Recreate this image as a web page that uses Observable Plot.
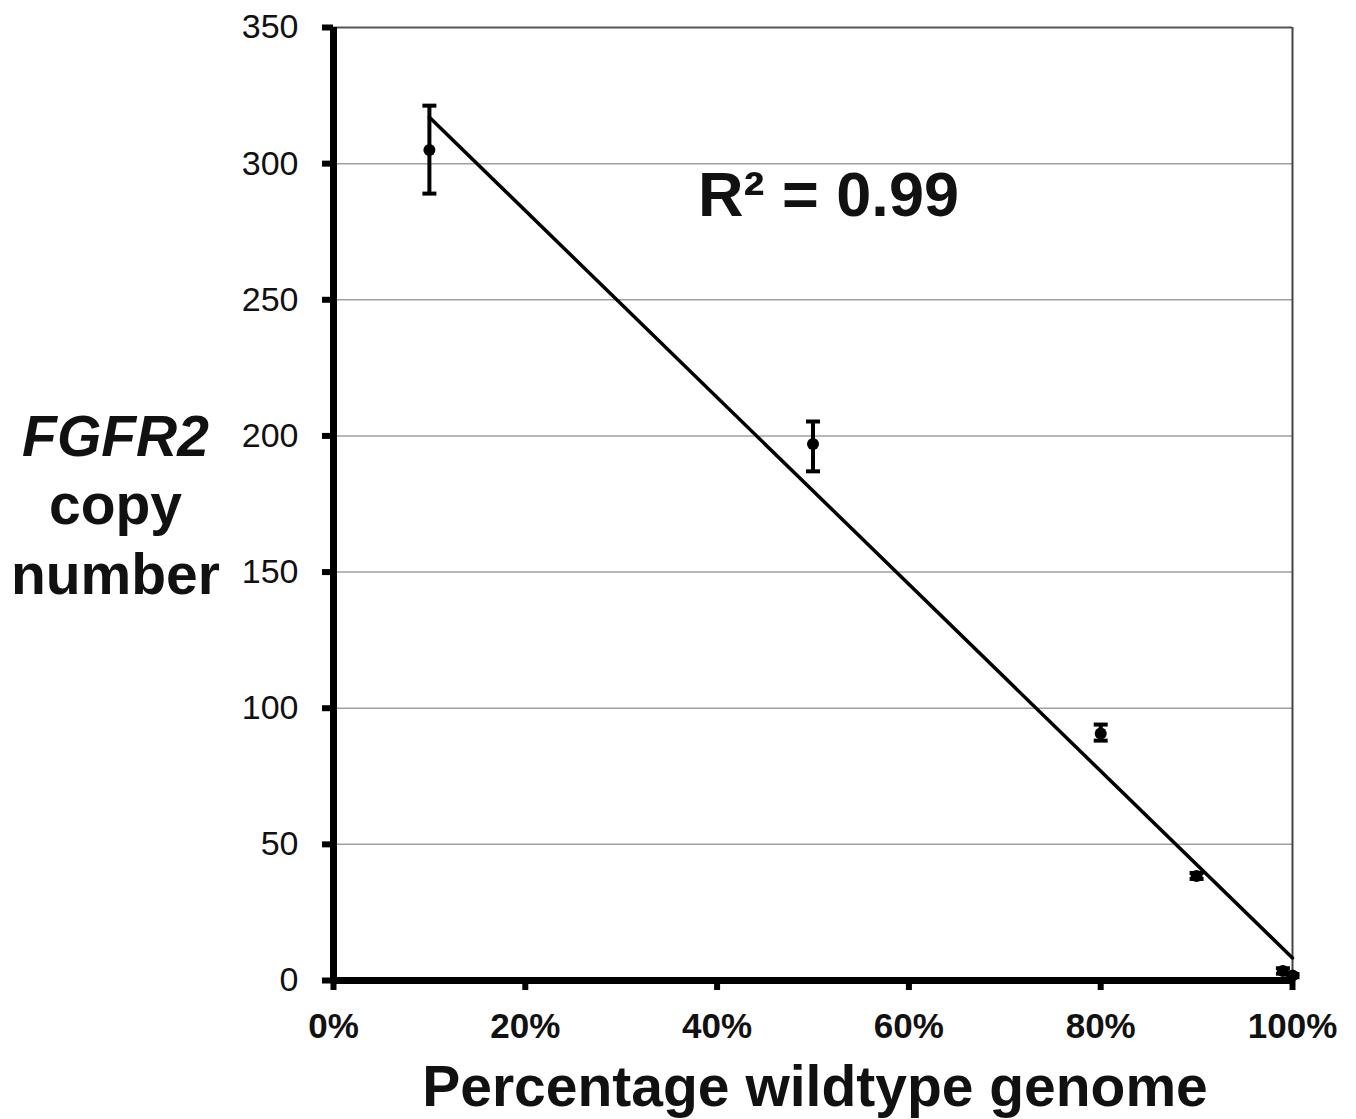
<!DOCTYPE html>
<html>
<head>
<meta charset="utf-8">
<script src="https://cdn.jsdelivr.net/npm/d3@7"></script>
<script src="https://cdn.jsdelivr.net/npm/@observablehq/plot@0.6"></script>
<style>
  html, body { margin: 0; padding: 0; background: #fff; }
</style>
</head>
<body>
<div id="chart"></div>
<script>
// Data
const wildtypePct = [10, 50, 80, 90, 99, 100];
const copyNumber  = [305, 197, 90.7, 38.4, 3.5, 1.8];
const errLow      = [289, 187, 88.1, 37.3, 2.5, 1.2];
const errHigh     = [321.3, 205.3, 94.0, 39.5, 4.5, 2.4];
const xTicks = [0, 20, 40, 60, 80, 100];
const yTicks = [0, 50, 100, 150, 200, 250, 300, 350];
const gridTicks = [50, 100, 150, 200, 250, 300];
const r2Label = "R\u00B2 = 0.99";

const data = wildtypePct.map((x, i) => ({x, y: copyNumber[i], lo: errLow[i], hi: errHigh[i]}));

// horizontal cap symbol
const capSymbol = {
  draw(context, size) {
    const w = 7;
    context.moveTo(-w, 0);
    context.lineTo(w, 0);
  }
};

const font = "'Liberation Sans', Arial, sans-serif";

const chart = Plot.plot({
  width: 1356,
  height: 1119,
  marginTop: 27,
  marginRight: 64,
  marginBottom: 139,
  marginLeft: 333,
  style: {fontFamily: font, background: "#fff", color: "#000"},
  x: {domain: [0, 100]},
  y: {domain: [0, 350]},
  marks: [
    Plot.gridY(gridTicks, {stroke: "#a0a0a0", strokeOpacity: 1, strokeWidth: 1.5}),
    Plot.ruleY([350], {stroke: "#555", strokeWidth: 2}),
    Plot.ruleX([100], {stroke: "#444", strokeWidth: 2}),
    Plot.linearRegressionY(data, {x: "x", y: "y", ci: 0, stroke: "#000", strokeWidth: 3.5}),
    Plot.ruleX(data, {x: "x", y1: "lo", y2: "hi", stroke: "#000", strokeWidth: 4}),
    Plot.dot(data, {x: "x", y: "lo", symbol: capSymbol, stroke: "#000", strokeWidth: 4, r: 7}),
    Plot.dot(data, {x: "x", y: "hi", symbol: capSymbol, stroke: "#000", strokeWidth: 4, r: 7}),
    Plot.dot(data, {x: "x", y: "y", r: 6, fill: "#000", stroke: "none"}),
    Plot.axisY({ticks: yTicks, tickSize: 11, tickPadding: 24, fontSize: 34, strokeWidth: 6, label: null, fill: "#111"}),
    Plot.axisX({ticks: xTicks, tickFormat: d => d + "%", tickSize: 10, tickPadding: 23, fontSize: 35, fontWeight: "bold", strokeWidth: 6, label: null, fill: "#111"}),
    Plot.ruleX([0], {stroke: "#000", strokeWidth: 7}),
    Plot.ruleY([0], {stroke: "#000", strokeWidth: 7}),
    Plot.text([r2Label], {frameAnchor: "top-left", dx: 495, dy: 188, lineAnchor: "bottom", textAnchor: "middle", fontSize: 63, fontWeight: "bold", fill: "#111"}),
    Plot.text(["FGFR2"], {frameAnchor: "top-left", dx: -218, dy: 428, lineAnchor: "bottom", textAnchor: "middle", fontSize: 57, fontWeight: "bold", fontStyle: "italic", fill: "#111"}),
    Plot.text(["copy"], {frameAnchor: "top-left", dx: -218, dy: 496, lineAnchor: "bottom", textAnchor: "middle", fontSize: 57, fontWeight: "bold", fill: "#111"}),
    Plot.text(["number"], {frameAnchor: "top-left", dx: -218, dy: 566, lineAnchor: "bottom", textAnchor: "middle", fontSize: 57, fontWeight: "bold", fill: "#111"}),
    Plot.text(["Percentage wildtype genome"], {frameAnchor: "bottom", dx: 2, dy: 125, lineAnchor: "bottom", textAnchor: "middle", fontSize: 57, fontWeight: "bold", fill: "#111"})
  ]
});

document.getElementById("chart").appendChild(chart);
</script>
</body>
</html>
